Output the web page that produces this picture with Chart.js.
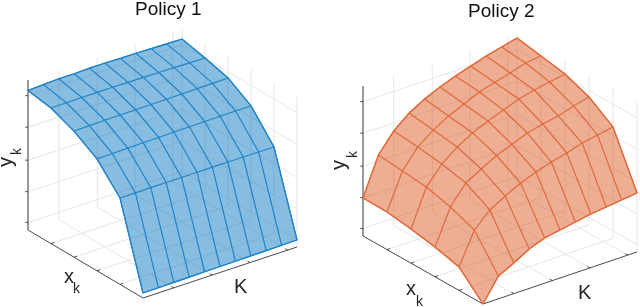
<!DOCTYPE html>
<html>
<head>
<meta charset="utf-8">
<script src="https://cdn.jsdelivr.net/npm/chart.js@4"></script>
<style>
  body { margin: 0; background: #fff; }
  canvas { position: absolute; top: 0; }
</style>
</head>
<body>
<canvas id="left" width="320" height="307" style="left:0"></canvas>
<canvas id="right" width="320" height="307" style="left:320px"></canvas>
<script>
// Grid of the two surfaces, all axes normalised to 0..1.
const kValues = [0, 0.1, 0.2, 0.3, 0.4, 0.5, 0.6, 0.7, 0.8, 0.9, 1];
const xValues = [0, 0.2, 0.4, 0.6, 0.8, 1];

const kTicks = [0.2, 0.45, 0.695, 0.94];
const xTicks = [0.2, 0.4, 0.6, 0.8];
const yTicks = [0.05, 0.255, 0.465, 0.685, 0.895];

// One row per x value, one column per K value.
const policy1Yk = [
  [0.033, 0.034, 0.036, 0.037, 0.039, 0.040, 0.041, 0.043, 0.044, 0.046, 0.047],
  [0.576, 0.576, 0.577, 0.577, 0.577, 0.578, 0.578, 0.578, 0.577, 0.577, 0.576],
  [0.746, 0.748, 0.750, 0.752, 0.753, 0.755, 0.756, 0.757, 0.758, 0.759, 0.759],
  [0.841, 0.843, 0.845, 0.846, 0.847, 0.848, 0.849, 0.850, 0.852, 0.853, 0.855],
  [0.904, 0.905, 0.906, 0.906, 0.906, 0.905, 0.904, 0.903, 0.901, 0.899, 0.897],
  [0.930, 0.935, 0.940, 0.940, 0.943, 0.943, 0.940, 0.940, 0.937, 0.935, 0.933]
];
const policy2Yk = [
  [0, 0.152, 0.204, 0.263, 0.301, 0.320, 0.339, 0.357, 0.369, 0.381, 0.393],
  [0.156, 0.368, 0.467, 0.525, 0.577, 0.616, 0.648, 0.673, 0.705, 0.724, 0.743],
  [0.199, 0.431, 0.556, 0.615, 0.670, 0.710, 0.751, 0.776, 0.795, 0.827, 0.852],
  [0.228, 0.473, 0.592, 0.671, 0.730, 0.775, 0.813, 0.852, 0.877, 0.896, 0.915],
  [0.251, 0.489, 0.615, 0.693, 0.752, 0.797, 0.843, 0.872, 0.900, 0.932, 0.944],
  [0.253, 0.505, 0.631, 0.716, 0.775, 0.820, 0.859, 0.891, 0.923, 0.948, 0.973]
];

// The view of each box: corner nearest the viewer, then the screen step of each axis.
const view1 = { x0: 143, y0: 298, kx: 154, ky: -51, xx: -115, xy: -68, h: 150 };
const view2 = { x0: 483, y0: 304, kx: 154, ky: -52, xx: -120, xy: -68, h: 150 };

const gridColor = '#e6e6e6';
const axisColor = '#4a4a4a';
const sideAxisColor = '#7a7a7a';
const meshWidth = 1.2;

function project(view, k, x, y, offset) {
  return {
    x: view.x0 + view.kx * k + view.xx * x - offset,
    y: view.y0 + view.ky * k + view.xy * x - view.h * y
  };
}

function lineSet(points, color, width) {
  return {
    data: points,
    borderColor: color,
    borderWidth: width,
    pointRadius: 0,
    tension: 0,
    fill: false,
    showLine: true
  };
}

function buildDatasets(view, table, fillColor, lineColor, offset) {
  const p = (k, x, y) => project(view, k, x, y, offset);
  const sets = [];

  // Walls and floor
  yTicks.forEach(y => {
    sets.push(lineSet([p(0, 1, y), p(1, 1, y), p(1, 0, y)], gridColor, 1));
  });
  kTicks.forEach(k => {
    sets.push(lineSet([p(k, 0, 0), p(k, 1, 0), p(k, 1, 1)], gridColor, 1));
  });
  xTicks.forEach(x => {
    sets.push(lineSet([p(0, x, 0), p(1, x, 0), p(1, x, 1)], gridColor, 1));
  });
  sets.push(lineSet([p(1, 0, 0), p(1, 0, 1)], gridColor, 1));
  sets.push(lineSet([p(1, 1, 0), p(1, 1, 1)], gridColor, 1));

  // Axes with their ticks
  sets.push(lineSet([p(0, 1, 1), p(0, 1, 0)], sideAxisColor, 1.5));
  sets.push(lineSet([p(0, 1, 0), p(0, 0, 0), p(1, 0, 0)], axisColor, 1));
  yTicks.forEach(y => {
    sets.push(lineSet([p(0, 1, y), p(-0.01, 1.01, y)], axisColor, 1));
  });
  kTicks.forEach(k => {
    sets.push(lineSet([p(k, 0, 0), p(k, 0.02, 0)], axisColor, 1));
  });
  xTicks.forEach(x => {
    sets.push(lineSet([p(0, x, 0), p(0.02, x, 0)], axisColor, 1));
  });

  // Surface: filled outline first, then the mesh
  const outline = [];
  kValues.forEach((k, i) => outline.push(p(k, 0, table[0][i])));
  xValues.forEach((x, j) => outline.push(p(1, x, table[j][10])));
  for (let i = 10; i >= 0; i--) outline.push(p(kValues[i], 1, table[5][i]));
  for (let j = 5; j >= 0; j--) outline.push(p(0, xValues[j], table[j][0]));
  const surface = lineSet(outline, lineColor, meshWidth);
  surface.fill = 'shape';
  surface.backgroundColor = fillColor;
  sets.push(surface);

  table.forEach((row, j) => {
    sets.push(lineSet(row.map((y, i) => p(kValues[i], xValues[j], y)), lineColor, meshWidth));
  });
  kValues.forEach((k, i) => {
    sets.push(lineSet(xValues.map((x, j) => p(k, x, table[j][i])), lineColor, meshWidth));
  });
  // Chart.js paints the first dataset last
  return sets.reverse();
}

// Titles and axis labels, placed in canvas pixels.
const textPlugin = {
  id: 'panelText',
  afterDraw(chart, args, opts) {
    const ctx = chart.ctx;
    ctx.save();
    ctx.textAlign = 'left';
    ctx.textBaseline = 'alphabetic';
    opts.items.forEach(t => {
      ctx.save();
      ctx.translate(t.x, t.y);
      ctx.rotate((t.rot || 0) * Math.PI / 180);
      ctx.font = t.size + 'px "Liberation Sans", Arial, sans-serif';
      ctx.fillStyle = t.color || '#262626';
      ctx.fillText(t.text, 0, 0);
      ctx.restore();
    });
    ctx.restore();
  }
};

function makeChart(id, view, table, fillColor, lineColor, offset, items) {
  return new Chart(document.getElementById(id), {
    type: 'scatter',
    data: { datasets: buildDatasets(view, table, fillColor, lineColor, offset) },
    options: {
      responsive: false,
      animation: false,
      events: [],
      layout: { padding: 0 },
      scales: {
        x: { type: 'linear', display: false, min: 0, max: 320 },
        y: { type: 'linear', display: false, min: 0, max: 307, reverse: true }
      },
      plugins: {
        legend: { display: false },
        tooltip: { enabled: false },
        panelText: { items: items }
      }
    },
    plugins: [textPlugin]
  });
}

makeChart('left', view1, policy1Yk, 'rgba(0,114,189,0.47)', '#2184c8', 0, [
  { text: 'Policy 1', x: 135, y: 15, size: 19, color: '#111' },
  { text: 'y', x: 12, y: 167, size: 20, rot: -90 },
  { text: 'k', x: 21, y: 155, size: 14, rot: -90 },
  { text: 'x', x: 64, y: 283, size: 20 },
  { text: 'k', x: 73, y: 293, size: 14 },
  { text: 'K', x: 234, y: 293, size: 20 }
]);

makeChart('right', view2, policy2Yk, 'rgba(217,83,25,0.47)', '#e1693a', 320, [
  { text: 'Policy 2', x: 148, y: 17, size: 19, color: '#111' },
  { text: 'y', x: 25, y: 170, size: 20, rot: -90 },
  { text: 'k', x: 37, y: 158, size: 14, rot: -90 },
  { text: 'x', x: 86, y: 295, size: 20 },
  { text: 'k', x: 96, y: 306, size: 14 },
  { text: 'K', x: 258, y: 299, size: 20 }
]);
</script>
</body>
</html>
